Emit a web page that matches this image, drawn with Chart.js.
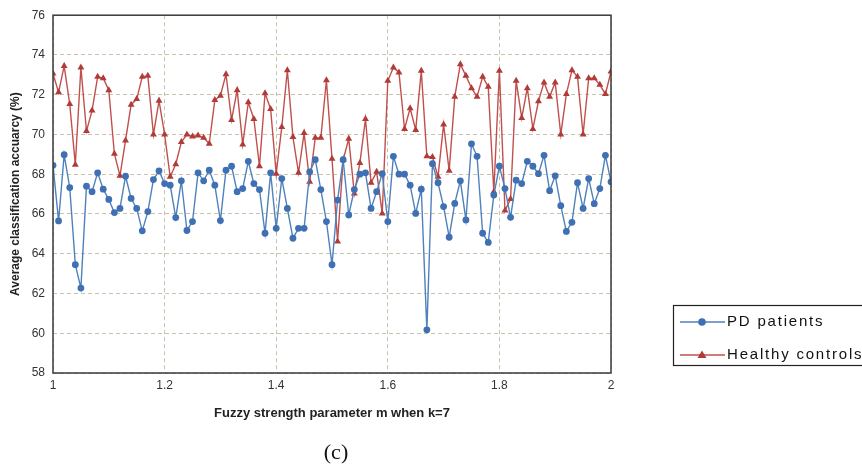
<!DOCTYPE html>
<html>
<head>
<meta charset="utf-8">
<script src="https://cdn.jsdelivr.net/npm/chart.js@4"></script>
<style>
  html, body { margin: 0; padding: 0; background: #fff; }
  #wrap { width: 862px; height: 475px; position: relative; }
</style>
</head>
<body>
<div id="wrap"><canvas id="myChart"></canvas></div>
<script>
"use strict";

// Mätvärden (m = 1.00 ... 2.00, steg 0.01)
const pdPatients = [
  68.45, 65.65, 68.98, 67.33, 63.45, 62.27, 67.40, 67.12, 68.07, 67.25,
  66.73, 66.07, 66.28, 67.90, 66.78, 66.28, 65.15, 66.12, 67.73, 68.17,
  67.53, 67.45, 65.82, 67.67, 65.17, 65.62, 68.07, 67.67, 68.20, 67.45,
  65.67, 68.20, 68.40, 67.12, 67.28, 68.65, 67.53, 67.23, 65.03, 68.07,
  65.28, 67.78, 66.28, 64.78, 65.28, 65.28, 68.12, 68.73, 67.23, 65.62,
  63.45, 66.70, 68.73, 65.95, 67.23, 68.00, 68.07, 66.28, 67.12, 68.03,
  65.62, 68.90, 68.00, 68.00, 67.45, 66.03, 67.25, 60.17, 68.53, 67.57,
  66.37, 64.83, 66.53, 67.67, 65.70, 69.53, 68.90, 65.03, 64.57, 66.95,
  68.40, 67.28, 65.83, 67.70, 67.53, 68.65, 68.40, 68.03, 68.95, 67.17,
  67.92, 66.42, 65.12, 65.58, 67.57, 66.28, 67.78, 66.52, 67.28, 68.95,
  67.62
];

const healthyControls = [
  73.07, 72.12, 73.45, 71.53, 68.48, 73.37, 70.17, 71.20, 72.90, 72.83,
  72.23, 69.03, 67.92, 69.70, 71.50, 71.78, 72.90, 72.95, 70.00, 71.70,
  70.00, 67.87, 68.50, 69.62, 70.00, 69.90, 69.95, 69.83, 69.53, 71.73,
  71.95, 73.03, 70.73, 72.23, 69.50, 71.62, 70.78, 68.40, 72.07, 71.28,
  68.03, 70.37, 73.23, 69.87, 68.07, 70.07, 67.62, 69.83, 69.83, 72.73,
  68.78, 64.62, 68.73, 69.78, 67.03, 68.57, 70.78, 67.57, 68.12, 66.03,
  72.70, 73.37, 73.12, 70.28, 71.32, 70.23, 73.20, 68.90, 68.87, 67.87,
  70.50, 68.17, 71.90, 73.53, 72.95, 72.33, 71.90, 72.90, 72.40, 67.12,
  73.20, 66.17, 66.75, 72.70, 70.83, 72.33, 70.28, 71.67, 72.62, 71.90,
  72.62, 70.00, 72.03, 73.23, 72.90, 70.00, 72.83, 72.83, 72.50, 72.03,
  73.17
];

// m-värden (parameter-svep 1.00 till 2.00)
const mValues = pdPatients.map((_, i) => +(1 + i / 100).toFixed(2));

const seriesNames = ['PD patients', 'Healthy controls'];
const yTicks = [58, 60, 62, 64, 66, 68, 70, 72, 74, 76];
const xTicks = [1, 1.2, 1.4, 1.6, 1.8, 2];

const blue = '#4f81bd';
const blueDark = '#3f70b3';
const red = '#c0504d';
const redDark = '#b03b38';

function toPoints(vals) {
  return vals.map((v, i) => ({ x: mValues[i], y: v }));
}

// Ram runt ritytan, förklaring och (c)
const extras = {
  id: 'extras',
  afterDraw(chart) {
    const { ctx, chartArea: a } = chart;
    ctx.save();
    ctx.setLineDash([]);
    ctx.strokeStyle = '#3a3a3a';
    ctx.lineWidth = 1.5;
    ctx.strokeRect(a.left, a.top, a.right - a.left, a.bottom - a.top);

    // förklaring
    ctx.lineWidth = 1.2;
    ctx.strokeStyle = '#222';
    ctx.strokeRect(673.5, 305.5, 200, 60);
    ctx.font = '15px "Liberation Sans", Arial, sans-serif';
    ctx.letterSpacing = '1.8px';
    ctx.textBaseline = 'middle';
    ctx.textAlign = 'left';
    const rows = [
      { y: 322, color: blue, mark: blueDark, style: 'circle' },
      { y: 355, color: red, mark: redDark, style: 'triangle' }
    ];
    rows.forEach((r, i) => {
      ctx.strokeStyle = r.color;
      ctx.lineWidth = 1.5;
      ctx.beginPath();
      ctx.moveTo(680, r.y);
      ctx.lineTo(725, r.y);
      ctx.stroke();
      ctx.fillStyle = r.mark;
      ctx.beginPath();
      if (r.style === 'circle') {
        ctx.arc(702, r.y, 3.8, 0, Math.PI * 2);
      } else {
        ctx.moveTo(702, r.y - 4.5);
        ctx.lineTo(706.5, r.y + 3);
        ctx.lineTo(697.5, r.y + 3);
        ctx.closePath();
      }
      ctx.fill();
      ctx.fillStyle = '#111';
      ctx.fillText(seriesNames[i], 727, r.y);
    });

    ctx.letterSpacing = '0px';
    ctx.font = '22px "Liberation Serif", "Times New Roman", serif';
    ctx.textAlign = 'center';
    ctx.fillStyle = '#111';
    ctx.fillText('(c)', 336, 453);
    ctx.restore();
  }
};

function drawDiagram() {
  const ctx = document.getElementById('myChart');

  new Chart(ctx, {
    type: 'line',
    data: {
      datasets: [{
        label: seriesNames[0],
        data: toPoints(pdPatients),
        borderColor: blue,
        backgroundColor: blueDark,
        borderWidth: 1.4,
        pointStyle: 'circle',
        pointRadius: 3.4,
        pointBorderWidth: 0,
        tension: 0
      }, {
        label: seriesNames[1],
        data: toPoints(healthyControls),
        borderColor: red,
        backgroundColor: redDark,
        borderWidth: 1.4,
        pointStyle: 'triangle',
        pointRadius: 4,
        pointBorderWidth: 0,
        tension: 0
      }]
    },
    options: {
      responsive: true,
      maintainAspectRatio: false,
      animation: false,
      layout: { padding: { top: 14, right: 251, bottom: 42, left: 0 } },
      plugins: {
        legend: { display: false },
        tooltip: { enabled: false }
      },
      scales: {
        x: {
          type: 'linear',
          min: 1,
          max: 2,
          afterBuildTicks: (scale) => { scale.ticks = xTicks.map(v => ({ value: v })); },
          afterFit: (scale) => { scale.height = 60; },
          ticks: {
            padding: 5,
            color: '#333',
            font: { family: '"Liberation Sans", Arial', size: 12 },
            callback: (v) => String(Number(v.toFixed(1)))
          },
          grid: { color: '#c9c3ad', lineWidth: 1, drawTicks: false },
          border: { display: false, dash: [4, 3] },
          title: {
            display: true,
            text: 'Fuzzy strength parameter m when k=7',
            color: '#222',
            font: { family: '"Liberation Sans", Arial', size: 13, weight: 'bold' },
            padding: { top: 0, bottom: 12 }
          }
        },
        y: {
          min: 58,
          max: 76,
          afterBuildTicks: (scale) => { scale.ticks = yTicks.map(v => ({ value: v })); },
          afterFit: (scale) => { scale.width = 53; },
          ticks: {
            padding: 8,
            color: '#333',
            font: { family: '"Liberation Sans", Arial', size: 12 }
          },
          grid: { color: '#c9c3ad', lineWidth: 1, drawTicks: false },
          border: { display: false, dash: [4, 3] },
          title: {
            display: true,
            text: 'Average classification accuarcy (%)',
            color: '#222',
            font: { family: '"Liberation Sans", Arial', size: 12, weight: 'bold' },
            padding: { top: 8, bottom: 0 }
          }
        }
      }
    },
    plugins: [extras]
  });
}

drawDiagram();
</script>
</body>
</html>
